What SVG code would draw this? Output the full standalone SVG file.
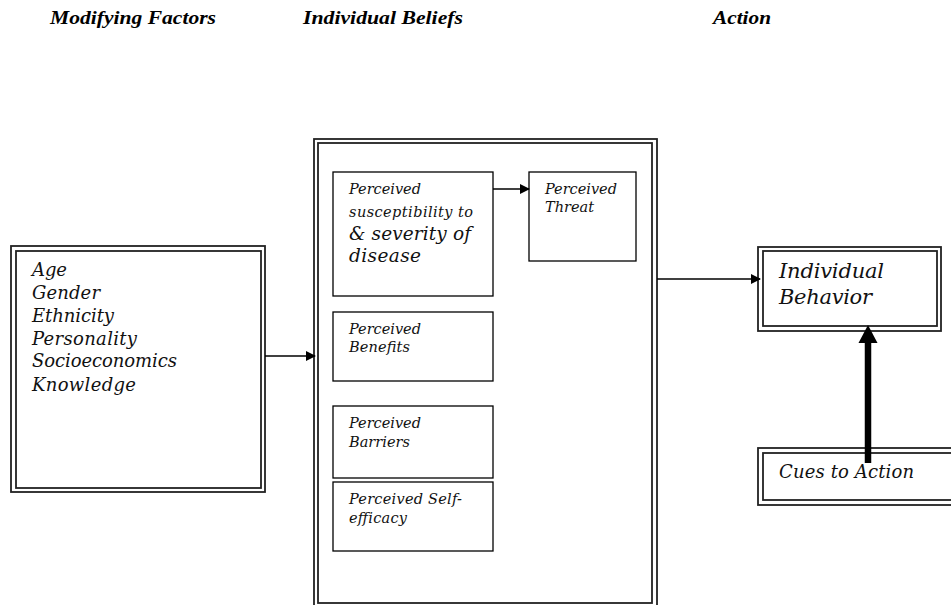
<svg xmlns="http://www.w3.org/2000/svg" width="951" height="605" viewBox="0 0 951 605">
<defs>
<style>
.hdr{font-family:"Liberation Serif","Times New Roman",serif;font-weight:bold;font-style:italic;font-size:19px;fill:#000}
.t{font-family:"DejaVu Serif",serif;font-style:italic;fill:#111}
.box{fill:none;stroke:#000;stroke-width:1.3}
.dbl{fill:none;stroke:#222;stroke-width:1.8}
.con{fill:none;stroke:#000;stroke-width:1.5}
</style>
<marker id="ah" markerWidth="10" markerHeight="10" refX="9" refY="5" orient="auto" markerUnits="userSpaceOnUse">
<path d="M0,0 L10,5 L0,10 Z" fill="#000"/>
</marker>
</defs>
<rect width="951" height="605" fill="#fff"/>
<g id="headers">
<text class="hdr" x="50" y="24" textLength="166" lengthAdjust="spacingAndGlyphs">Modifying Factors</text>
<text class="hdr" x="303" y="24" textLength="160" lengthAdjust="spacingAndGlyphs">Individual Beliefs</text>
<text class="hdr" x="713" y="24" textLength="58" lengthAdjust="spacingAndGlyphs">Action</text>
</g>
<g id="modifying">
<rect class="dbl" x="11" y="246" width="254" height="246"/>
<rect class="dbl" x="16" y="251" width="245" height="237"/>
<text class="t" font-size="18" x="32" y="276" textLength="35">Age</text>
<text class="t" font-size="18" x="32" y="299" textLength="68">Gender</text>
<text class="t" font-size="18" x="32" y="322" textLength="82">Ethnicity</text>
<text class="t" font-size="18" x="32" y="345" textLength="105">Personality</text>
<text class="t" font-size="18" x="32" y="367" textLength="145">Socioeconomics</text>
<text class="t" font-size="18" x="32" y="391" textLength="104">Knowledge</text>
</g>
<g id="beliefs">
<rect class="dbl" x="314" y="139" width="343" height="470"/>
<rect class="dbl" x="318" y="143" width="334" height="460"/>
</g>
<g id="susceptibility">
<rect class="box" x="333" y="172" width="160" height="124"/>
<text class="t" font-size="14.5" x="349" y="194" textLength="72">Perceived</text>
<text class="t" font-size="14.5" x="349" y="217" textLength="124">susceptibility to</text>
<text class="t" font-size="18.5" x="349" y="240" textLength="122">&amp; severity of</text>
<text class="t" font-size="18.5" x="349" y="262" textLength="72">disease</text>
</g>
<g id="threat">
<rect class="box" x="529" y="172" width="107" height="89"/>
<text class="t" font-size="14.5" x="545" y="194" textLength="72">Perceived</text>
<text class="t" font-size="14.5" x="545" y="212" textLength="49">Threat</text>
</g>
<g id="benefits">
<rect class="box" x="333" y="312" width="160" height="69"/>
<text class="t" font-size="14.5" x="349" y="334" textLength="72">Perceived</text>
<text class="t" font-size="14.5" x="349" y="352" textLength="61">Benefits</text>
</g>
<g id="barriers">
<rect class="box" x="333" y="406" width="160" height="72"/>
<text class="t" font-size="14.5" x="349" y="428" textLength="72">Perceived</text>
<text class="t" font-size="14.5" x="349" y="447" textLength="61">Barriers</text>
</g>
<g id="selfefficacy">
<rect class="box" x="333" y="482" width="160" height="69"/>
<text class="t" font-size="14.5" x="349" y="504" textLength="113">Perceived Self-</text>
<text class="t" font-size="14.5" x="349" y="523" textLength="58">efficacy</text>
</g>
<g id="behavior">
<rect class="dbl" x="758" y="247" width="183" height="84"/>
<rect class="dbl" x="763" y="251" width="174" height="75"/>
<text class="t" font-size="21" x="779" y="278" textLength="105">Individual</text>
<text class="t" font-size="21" x="779" y="304" textLength="93">Behavior</text>
</g>
<g id="cues">
<rect class="dbl" x="758" y="448" width="200" height="57"/>
<rect class="dbl" x="763" y="453" width="200" height="47"/>
<text class="t" font-size="18" x="779" y="478" textLength="135">Cues to Action</text>
</g>
<g id="connectors">
<line class="con" x1="265" y1="356" x2="315" y2="356" marker-end="url(#ah)"/>
<line class="con" x1="493" y1="189" x2="529" y2="189" marker-end="url(#ah)"/>
<line class="con" x1="657" y1="279" x2="760" y2="279" marker-end="url(#ah)"/>
<line x1="868" y1="463" x2="868" y2="340" stroke="#000" stroke-width="6.5"/>
<path d="M858.5,343 L868,325 L877.5,343 Z" fill="#000"/>
</g>
</svg>
